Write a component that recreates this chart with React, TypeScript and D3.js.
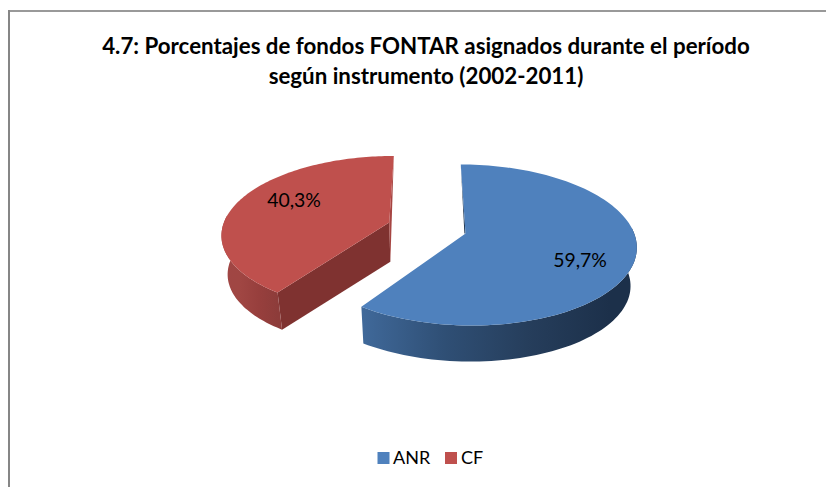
import React from "react";
import * as d3 from "d3";

const categories = ["ANR", "CF"];
const values = [59.7, 40.3];
const labels = ["59,7%", "40,3%"];
const titleLines = [
  "4.7: Porcentajes de fondos FONTAR asignados durante el período",
  "según instrumento (2002-2011)",
];
const topColors = ["#4f81bd", "#bf504d"];
const cutColors = ["#1f3855", "#7f3230"];
const sliverColors = ["#1f3855", "#a64542"];
const bandStops = [
  ["#40699a", "#2f4f75", "#263e5c", "#1c304a"],
  ["#a04644", "#a04643", "#973f3d", "#8d3c3a"],
];
const labelAnchors = [
  [580, 267],
  [294, 207],
];

const W = 826, H = 487;
const vx = 427, vy = 228, R = 167, squash = 0.463, k = 0.14;
const explode = 40, depth = 39, narrowing = 0.03;

type Pt = [number, number];

function project(X: number, v: number, z: number): Pt {
  const s = 1 / (1 - (k * v) / R);
  const zs = 1 - narrowing * z;
  return [vx + X * s * zs, vy + v * squash * s * zs + depth * z];
}

export default function App() {
  const arcs = d3.pie<number>().sort(null)(values);
  const line = d3.line<Pt>();
  const color = d3.scaleOrdinal<string, string>().domain(categories).range(topColors);

  const slices = arcs.map((a, i) => {
    const mid = (a.startAngle + a.endAngle) / 2;
    const ox = explode * Math.sin(mid);
    const ov = -explode * Math.cos(mid);
    const rim = (t: number, z: number) =>
      project(ox + R * Math.sin(t), ov - R * Math.cos(t), z);
    const apex = (z: number) => project(ox, ov, z);
    const ts = d3.range(0, 121).map((n) => a.startAngle + ((a.endAngle - a.startAngle) * n) / 120);
    const front = ts.filter((t) => Math.cos(t) < 0.1);
    const top: Pt[] = [apex(0), ...ts.map((t) => rim(t, 0))];
    const band: Pt[] = [...front.map((t) => rim(t, 0)), ...front.slice().reverse().map((t) => rim(t, 1))];
    const cutStart: Pt[] = [apex(0), rim(a.startAngle, 0), rim(a.startAngle, 1), apex(1)];
    return { i, top, band, cutStart, apex, rim, a };
  });

  const [blue, red] = slices;
  const blueCorner = blue.rim(blue.a.endAngle, 0);
  const redCorner = red.rim(red.a.startAngle, 0);

  return (
    <svg width={W} height={H} style={{ position: "absolute", left: 0, top: 0 }}
      fontFamily="Lato, 'Noto Sans', sans-serif">
      <defs>
        {slices.map((s) => {
          const xs = d3.extent(s.band, (p) => p[0]) as [number, number];
          return (
            <linearGradient key={s.i} id={`band${s.i}`} gradientUnits="userSpaceOnUse"
              x1={s.i === 0 ? blueCorner[0] : xs[0]} x2={s.i === 0 ? 610 : redCorner[0]} y1={0} y2={0}>
              {bandStops[s.i].map((c, j) => (
                <stop key={j} offset={j / (bandStops[s.i].length - 1)} stopColor={c} />
              ))}
            </linearGradient>
          );
        })}
      </defs>
      <rect x={0} y={0} width={W} height={H} fill="#fff" />
      <rect x={8} y={10} width={W - 8} height={2} fill="#999999" />
      <rect x={8} y={10} width={2} height={H - 10} fill="#868686" />
      {titleLines.map((t, i) => (
        <text key={i} x={426} y={54 + i * 30} textAnchor="middle" fontSize={22.3} fontWeight={700} fill="#000">
          {t}
        </text>
      ))}

      {/* CF */}
      <path d={line(red.cutStart)! + "Z"} fill={cutColors[1]} />
      <path d={line(red.band)! + "Z"} fill="url(#band1)" />
      <path d={line([red.rim(red.a.endAngle, 0), red.apex(0), red.apex(1)])! + "Z"} fill={sliverColors[1]} />
      <path d={line(red.top)! + "Z"} fill={color("CF")} />

      {/* ANR */}
      <path d={line(blue.band)! + "Z"} fill="url(#band0)" />
      <path
        d={line([blue.rim(blue.a.startAngle, 0), blue.apex(0), [blue.apex(1)[0], blue.apex(0)[1]]])! + "Z"}
        fill={sliverColors[0]}
      />
      <path d={line(blue.top)! + "Z"} fill={color("ANR")} />

      {labels.map((l, i) => (
        <text key={l} x={labelAnchors[i][0]} y={labelAnchors[i][1]} textAnchor="middle" fontSize={19.4} fill="#000">
          {l}
        </text>
      ))}

      <rect x={377.5} y={452} width={12} height={12} fill={topColors[0]} />
      <text x={393} y={464} fontSize={18} fill="#000">{categories[0]}</text>
      <rect x={445} y={452} width={12} height={12} fill={topColors[1]} />
      <text x={461} y={464} fontSize={18} fill="#000">{categories[1]}</text>
    </svg>
  );
}
